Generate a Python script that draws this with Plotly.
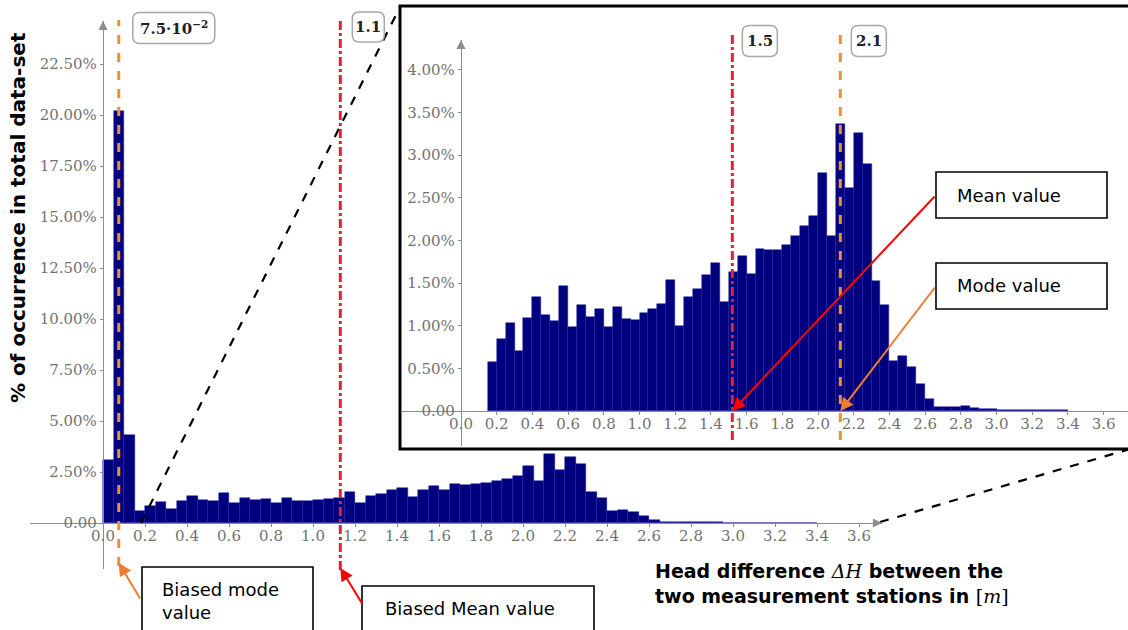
import plotly.graph_objects as go

# ---- data -------------------------------------------------------------
bin_width = 0.05            # histogram bin width in metres
first_bin = 0.0             # left edge of the first bin
share_pct = [               # share of the data-set in each bin, %
    3.1, 20.2, 4.3, 0.57, 0.84, 1.035, 0.70, 1.085, 1.34, 1.125,
    1.06, 1.46, 0.99, 1.24, 1.105, 1.19, 0.98, 1.215, 1.08, 1.066,
    1.145, 1.195, 1.25, 1.535, 1.0, 1.34, 1.43, 1.60, 1.74, 1.28,
    1.63, 1.82, 1.61, 1.90, 1.885, 1.89, 1.95, 2.05, 2.17, 2.285,
    2.785, 2.05, 3.36, 2.61, 3.26, 2.90, 1.52, 1.24, 0.59, 0.64,
    0.52, 0.32, 0.14, 0.047, 0.05, 0.05, 0.055, 0.04, 0.027, 0.02,
    0.012, 0.01, 0.015, 0.015, 0.012, 0.01, 0.008, 0.006,
]
cut_bins = 3                # bins below 0.15 m dropped for the zoomed view

biased_mode = 0.075
biased_mean = 1.13
mean_value = 1.52
mode_value = 2.125

x_ticks = [0.0, 0.2, 0.4, 0.6, 0.8, 1.0, 1.2, 1.4, 1.6, 1.8, 2.0, 2.2, 2.4,
           2.6, 2.8, 3.0, 3.2, 3.4, 3.6]
main_y_ticks = [0, 2.5, 5, 7.5, 10, 12.5, 15, 17.5, 20, 22.5]
zoom_y_ticks = [0, 0.5, 1.0, 1.5, 2.0, 2.5, 3.0, 3.5, 4.0]

# ---- page geometry (pixels) ------------------------------------------
W, H = 1128, 630


def fx(p):
    return p / W


def fy(p):
    return 1 - p / H


NAVY = "#00007e"
GREY = "#8c8c8c"
TICK_GREY = "#727272"
ORANGE = "#f0902c"
CRIMSON = "#e3203c"
ARROW_RED = "#ff0000"
ARROW_ORANGE = "#ee7d31"

centers = [first_bin + (i + 0.5) * bin_width for i in range(len(share_pct))]

tick_font = dict(family="DejaVu Serif", size=15, color=TICK_GREY)


def pct_label(v):
    return "0.00" if v == 0 else f"{v:.2f}%"


def sci_label(v):
    exp = 0
    m = v
    while abs(m) < 1:
        m *= 10
        exp -= 1
    return f"{m:.1f}·10<sup>−{abs(exp)}</sup>"


def rounded_box(left, w, h, r):
    """Rounded rectangle path in pixels, from x=left to left+w, centred on y=0."""
    x0, x1, y0, y1 = left, left + w, -h / 2, h / 2
    return (f"M {x0 + r},{y0} L {x1 - r},{y0} Q {x1},{y0} {x1},{y0 + r} "
            f"L {x1},{y1 - r} Q {x1},{y1} {x1 - r},{y1} "
            f"L {x0 + r},{y1} Q {x0},{y1} {x0},{y1 - r} "
            f"L {x0},{y0 + r} Q {x0},{y0} {x0 + r},{y0} Z")


fig = go.Figure()

bar_style = dict(color=NAVY, line=dict(color="#1c1ca8", width=0.5))
fig.add_trace(go.Bar(x=centers, y=share_pct, width=bin_width,
                     marker=bar_style, xaxis="x", yaxis="y",
                     hoverinfo="x+y"))
fig.add_trace(go.Bar(x=centers[cut_bins:], y=share_pct[cut_bins:],
                     width=bin_width, marker=bar_style,
                     xaxis="x2", yaxis="y2", hoverinfo="x+y"))

# main axes: 0 at (103, 523) px, 210 px per metre, 20.4 px per percent
mx0, mx1, my0, my1 = 30, 882, 569, 21
m_org_x, m_org_y, m_sx, m_sy = 103, 523, 210.0, 20.4
# zoomed axes: 0 at (461, 411) px, 178.5 px per metre, 85.3 px per percent
zx0, zx1, zy0, zy1 = 402, 1128, 446, 40
z_org_x, z_org_y, z_sx, z_sy = 461, 411, 178.5, 85.3

common_axis = dict(showgrid=False, zeroline=False, showline=True,
                   linecolor=GREY, linewidth=1.3, ticks="outside",
                   ticklen=3, tickcolor=GREY, tickwidth=1.2,
                   tickfont=tick_font, fixedrange=True, anchor="free")

fig.update_layout(
    xaxis=dict(common_axis,
               domain=[fx(mx0), fx(mx1)],
               range=[(mx0 - m_org_x) / m_sx, (mx1 - m_org_x) / m_sx],
               position=fy(m_org_y), ticklabelstandoff=-4,
               tickvals=x_ticks, ticktext=[f"{t:.1f}" for t in x_ticks]),
    yaxis=dict(common_axis,
               domain=[fy(my0), fy(my1)],
               range=[(m_org_y - my0) / m_sy, (m_org_y - my1) / m_sy],
               position=fx(m_org_x),
               tickvals=main_y_ticks,
               ticktext=[pct_label(t) for t in main_y_ticks]),
    xaxis2=dict(common_axis,
                domain=[fx(zx0), fx(zx1)],
                range=[(zx0 - z_org_x) / z_sx, (zx1 - z_org_x) / z_sx],
                position=fy(z_org_y), ticklabelstandoff=-4,
                tickvals=x_ticks, ticktext=[f"{t:.1f}" for t in x_ticks]),
    yaxis2=dict(common_axis,
                domain=[fy(zy0), fy(zy1)],
                range=[(z_org_y - zy0) / z_sy, (z_org_y - zy1) / z_sy],
                position=fx(z_org_x),
                tickvals=zoom_y_ticks,
                ticktext=[pct_label(t) for t in zoom_y_ticks]),
)

shapes = []
annotations = []

# frame of the zoomed view
shapes.append(dict(type="rect", xref="paper", yref="paper",
                   x0=fx(400), x1=fx(1140), y0=fy(449), y1=fy(6),
                   line=dict(color="black", width=3), layer="above"))
# dashed guides linking the main plot to the zoomed view
shapes.append(dict(type="line", xref="paper", yref="paper",
                   x0=fx(141), y0=fy(523), x1=fx(400), y1=fy(7),
                   line=dict(color="black", width=2.2, dash="dash")))
shapes.append(dict(type="line", xref="paper", yref="paper",
                   x0=fx(880), y0=fy(522), x1=fx(1130), y1=fy(449),
                   line=dict(color="black", width=2.2, dash="dash")))

# mode / mean markers
vlines = [
    ("x", biased_mode, ORANGE, "dash", 20, 566),
    ("x", biased_mean, CRIMSON, "dashdot", 20, 570),
    ("x2", mean_value, CRIMSON, "dashdot", 33, 440),
    ("x2", mode_value, ORANGE, "dash", 33, 440),
]
for xr, v, col, dash, top, bottom in vlines:
    shapes.append(dict(type="line", xref=xr, yref="paper",
                       x0=v, x1=v, y0=fy(bottom), y1=fy(top),
                       line=dict(color=col, width=3, dash=dash),
                       layer="above"))

# value tags: (axis, value, text, gap from line, tag width, tag height, centre y)
value_tags = [
    ("x", biased_mode, sci_label(biased_mode), 14, 82, 31, 28),
    ("x", biased_mean, f"{biased_mean:.1f}", 12, 32, 30, 27),
    ("x2", mean_value, f"{mean_value:.1f}", 10, 35, 31, 41),
    ("x2", mode_value, f"{mode_value:.1f}", 11, 35, 31, 41),
]
for xr, v, txt, gap, w, h, yc in value_tags:
    shapes.append(dict(type="path", xref=xr, yref="paper",
                       xsizemode="pixel", ysizemode="pixel",
                       xanchor=v, yanchor=fy(yc),
                       path=rounded_box(gap, w, h, 7),
                       line=dict(color="#a8a8a8", width=1.5),
                       fillcolor="white", layer="above"))
    annotations.append(dict(
        xref=xr, yref="paper", x=v, y=fy(yc), xanchor="center",
        yanchor="middle", xshift=gap + w / 2, showarrow=False,
        text=f"<b>{txt}</b>",
        font=dict(family="DejaVu Serif", size=15, color="#222222")))

# axis arrow heads
for x, y, ax, ay in [(mx1, m_org_y, -10, 0), (m_org_x, my1, 0, 10),
                     (z_org_x, zy1, 0, 10)]:
    annotations.append(dict(xref="paper", yref="paper", x=fx(x), y=fy(y),
                            ax=ax, ay=ay, text="", showarrow=True,
                            arrowhead=2, arrowsize=1.4, arrowwidth=1.3,
                            arrowcolor=GREY))

# call-out boxes
boxes = [
    (936, 1107, 172, 218, 955, 195, "Mean value"),
    (936, 1107, 263, 309, 955, 286, "Mode value"),
    (142, 313, 567, 645, 160, 601, "Biased mode<br>value"),
    (362, 594, 586, 645, 383, 608, "Biased Mean value"),
]
for x0, x1, y0, y1, tx, ty, txt in boxes:
    shapes.append(dict(type="rect", xref="paper", yref="paper",
                       x0=fx(x0), x1=fx(x1), y0=fy(y1), y1=fy(y0),
                       line=dict(color="black", width=1.6),
                       fillcolor="white", layer="above"))
    annotations.append(dict(xref="paper", yref="paper", x=fx(tx), y=fy(ty),
                            xanchor="left", yanchor="middle", align="left",
                            showarrow=False, text=txt,
                            font=dict(family="DejaVu Sans", size=18,
                                      color="black")))

# call-out arrows
pointers = [
    ("x2", "y2", mean_value, 0.0, 936, 195, ARROW_RED),
    ("x2", "y2", mode_value, 0.0, 936, 286, ARROW_ORANGE),
    ("x", "y", biased_mode, -1.95, 141, 600, ARROW_ORANGE),
    ("x", "y", biased_mean, -2.2, 363, 605, ARROW_RED),
]
for xr, yr, xv, yv, tx, ty, col in pointers:
    if xr == "x":
        hx, hy = m_org_x + xv * m_sx, m_org_y - yv * m_sy
    else:
        hx, hy = z_org_x + xv * z_sx, z_org_y - yv * z_sy
    annotations.append(dict(xref=xr, yref=yr, x=xv, y=yv,
                            ax=tx - hx, ay=ty - hy, text="", showarrow=True,
                            arrowhead=2, arrowsize=1.3, arrowwidth=2,
                            arrowcolor=col))

# axis titles
annotations.append(dict(
    xref="paper", yref="paper", x=fx(18), y=fy(218), textangle=-90,
    showarrow=False, xanchor="center", yanchor="middle",
    text="<b>% of occurrence in total data-set</b>",
    font=dict(family="DejaVu Sans", size=20, color="black")))
annotations.append(dict(
    xref="paper", yref="paper", x=fx(653), y=fy(583), xanchor="left",
    yanchor="middle", align="left", showarrow=False,
    text=("<b>Head difference </b>"
          "<span style='font-family:DejaVu Serif'><i>ΔH</i></span>"
          "<b> between the</b><br>"
          "<b>two measurement stations in </b>"
          "<span style='font-family:DejaVu Serif'>[<i>m</i>]</span>"),
    font=dict(family="DejaVu Sans", size=19, color="black")))

fig.update_layout(
    width=W, height=H, autosize=False,
    margin=dict(l=0, r=0, t=0, b=0),
    paper_bgcolor="white", plot_bgcolor="rgba(0,0,0,0)",
    showlegend=False, bargap=0,
    shapes=shapes, annotations=annotations,
)

fig.write_html("out.html")
